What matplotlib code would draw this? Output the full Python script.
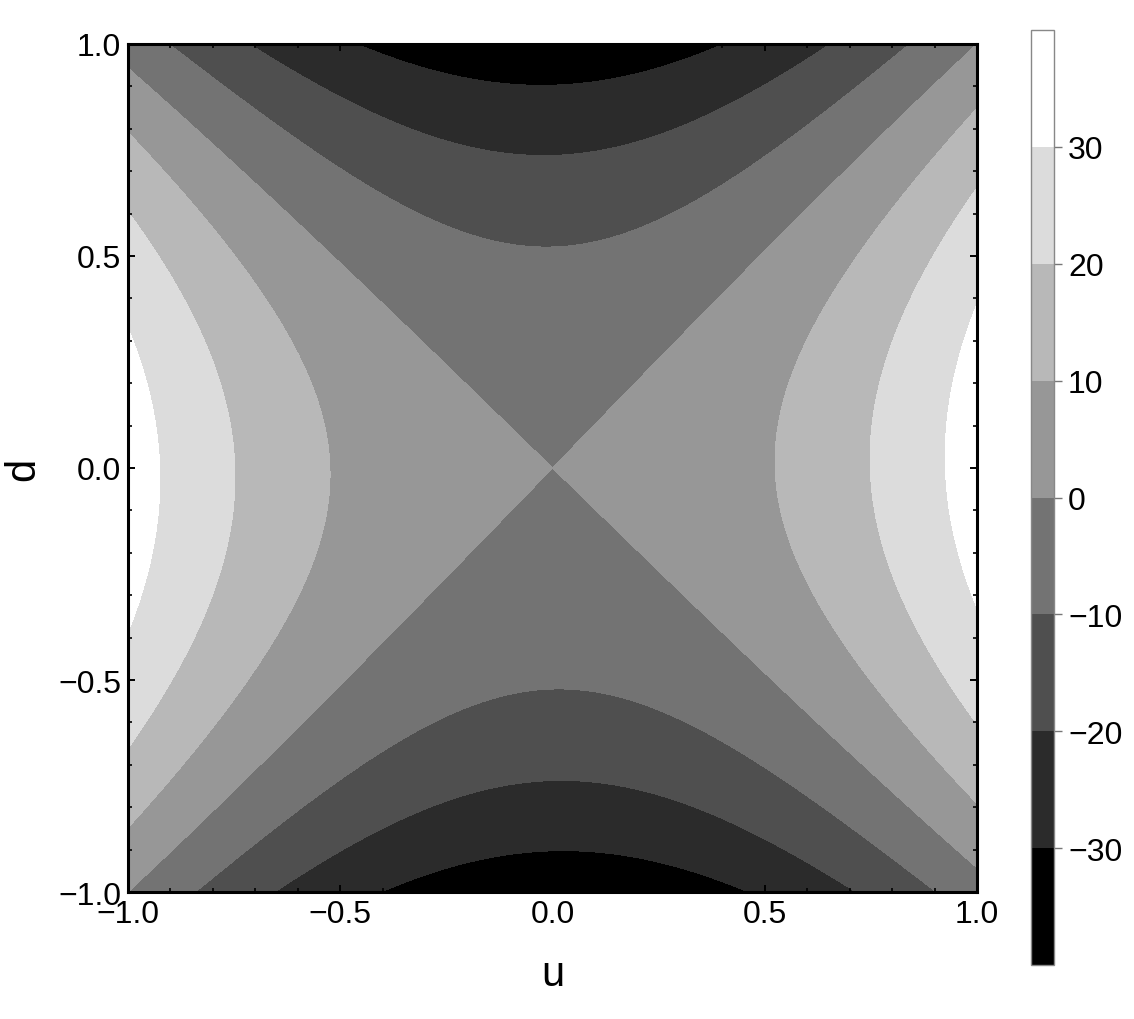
import matplotlib
matplotlib.use("Agg")
import matplotlib.pyplot as plt
import numpy as np

plt.rcParams['font.family'] = ['Liberation Sans', 'DejaVu Sans']

# contour levels and band colours (black -> white)
levels = [-40, -30, -20, -10, 0, 10, 20, 30, 40]
band_grays = ['#000000', '#2b2b2b', '#4f4f4f', '#737373', '#979797', '#b8b8b8', '#dcdcdc', '#ffffff']
cbar_ticks = [-30, -20, -10, 0, 10, 20, 30]
cbar_ticklabels = ['\u221230', '\u221220', '\u221210', '0', '10', '20', '30']
axis_ticks = [-1.0, -0.5, 0.0, 0.5, 1.0]
axis_ticklabels = ['\u22121.0', '\u22120.5', '0.0', '0.5', '1.0']

# surface f(u, d) = a*u^2 + a4*u^4 - b*d^2 + c*u*d, coefficients
a_uu = 37.0
a_u4 = -2.3
b_dd = 36.8
c_ud = 2.1

u = np.linspace(-1, 1, 501)
d = np.linspace(-1, 1, 501)
U, D = np.meshgrid(u, d)
F = a_uu * U**2 + a_u4 * U**4 - b_dd * D**2 + c_ud * U * D

fig = plt.figure(figsize=(11.34, 10.2), dpi=100)
ax = fig.add_axes([0.1129, 0.1245, 0.7487, 0.8314])
cs = ax.contourf(U, D, F, levels=levels, colors=band_grays, antialiased=False)

ax.set_xlim(-1, 1)
ax.set_ylim(-1, 1)
ax.set_xticks(axis_ticks)
ax.set_xticklabels(axis_ticklabels)
ax.set_yticks(axis_ticks)
ax.set_yticklabels(axis_ticklabels)
ax.set_xticks(np.arange(-1, 1.01, 0.1), minor=True)
ax.set_yticks(np.arange(-1, 1.01, 0.1), minor=True)
ax.tick_params(which='both', direction='in', top=True, right=True, color='black')
ax.tick_params(which='major', length=5, width=1.4, labelsize=23, pad=5)
ax.tick_params(which='minor', length=3, width=1.2)
for s in ax.spines.values():
    s.set_linewidth(2.2)

ax.set_xlabel('u', fontsize=30, labelpad=18)
ax.set_ylabel('d', fontsize=30, labelpad=11)

cax = fig.add_axes([0.9092, 0.0529, 0.0203, 0.9167])
cb = fig.colorbar(cs, cax=cax, ticks=cbar_ticks)
cb.ax.set_yticklabels(cbar_ticklabels)
cb.ax.tick_params(length=6, width=1, color='#777777', labelsize=23, pad=4)
cb.outline.set_edgecolor('#888888')
cb.outline.set_linewidth(1)

fig.savefig('out.png', dpi=100)
